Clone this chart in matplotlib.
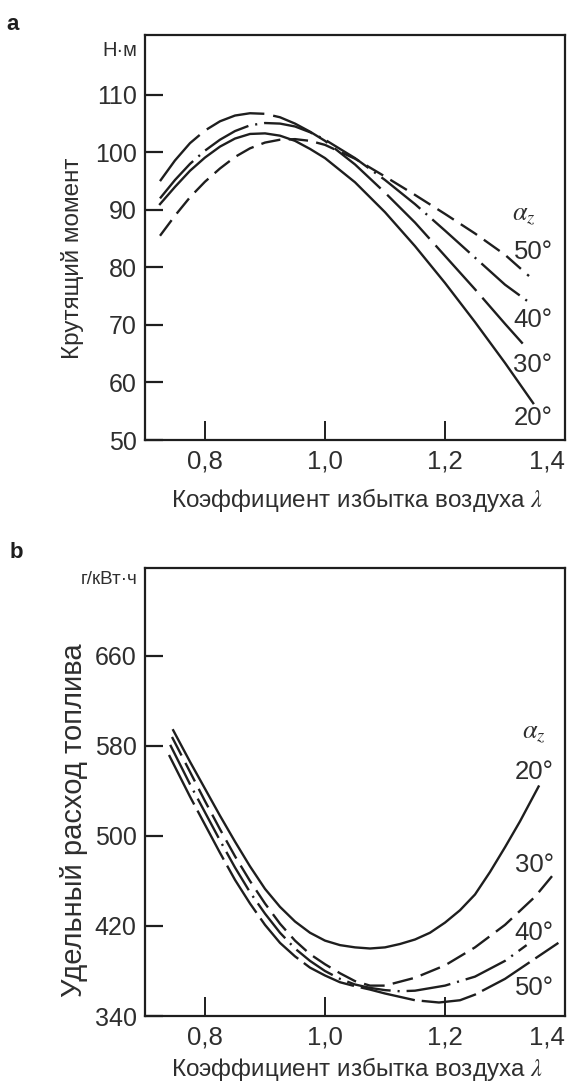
import matplotlib
matplotlib.use('Agg')
import matplotlib.pyplot as plt
from matplotlib import font_manager

# ---------------- data ----------------
x_ticks = [0.8, 1.0, 1.2, 1.4]
x_tick_labels = ['0,8', '1,0', '1,2', '1,4']

# Panel a: torque, N·m
a_y_ticks = [50, 60, 70, 80, 90, 100, 110]
a_x20 = [0.725, 0.75, 0.775, 0.80, 0.825, 0.85, 0.875, 0.90, 0.925, 0.95, 0.975, 1.00, 1.05, 1.10, 1.15, 1.20, 1.25, 1.30, 1.347]
a_y20 = [91.0, 94.0, 96.8, 99.1, 101.0, 102.4, 103.2, 103.3, 102.9, 102.0, 100.6, 99.0, 94.8, 89.6, 83.7, 77.3, 70.5, 63.4, 56.4]
a_x30 = [0.725, 0.75, 0.775, 0.80, 0.825, 0.85, 0.875, 0.90, 0.925, 0.95, 0.975, 1.00, 1.05, 1.10, 1.15, 1.20, 1.25, 1.30, 1.336]
a_y30 = [95.0, 98.6, 101.6, 103.8, 105.4, 106.4, 106.8, 106.7, 106.1, 105.0, 103.6, 102.0, 97.9, 93.0, 87.8, 82.0, 76.2, 70.2, 66.0]
a_x40 = [0.725, 0.75, 0.775, 0.80, 0.825, 0.85, 0.875, 0.90, 0.925, 0.95, 0.975, 1.00, 1.05, 1.10, 1.15, 1.20, 1.25, 1.30, 1.342]
a_y40 = [92.0, 95.2, 98.0, 100.3, 102.2, 103.7, 104.7, 105.1, 105.0, 104.5, 103.5, 102.2, 99.0, 95.2, 91.0, 86.4, 81.7, 77.0, 73.8]
a_x50 = [0.725, 0.75, 0.775, 0.80, 0.825, 0.85, 0.875, 0.90, 0.925, 0.95, 0.975, 1.00, 1.05, 1.10, 1.15, 1.20, 1.25, 1.30, 1.34]
a_y50 = [85.5, 89.0, 92.2, 94.9, 97.2, 99.2, 100.7, 101.7, 102.2, 102.3, 102.0, 101.3, 98.9, 95.8, 92.6, 89.3, 85.9, 82.2, 78.5]

# Panel b: specific fuel consumption, g/kW·h
b_y_ticks = [340, 420, 500, 580, 660]
b_x20 = [0.747, 0.775, 0.80, 0.825, 0.85, 0.875, 0.90, 0.925, 0.95, 0.975, 1.00, 1.025, 1.05, 1.075, 1.10, 1.125, 1.15, 1.175, 1.20, 1.225, 1.25, 1.275, 1.30, 1.325, 1.356]
b_y20 = [594, 566, 542, 518, 495, 473, 453, 437, 424, 414, 407, 403, 401, 400, 401, 404, 408, 414, 423, 434, 448, 468, 490, 513, 544]
b_x30 = [0.745, 0.775, 0.80, 0.825, 0.85, 0.875, 0.90, 0.925, 0.95, 0.975, 1.00, 1.025, 1.05, 1.075, 1.10, 1.15, 1.20, 1.25, 1.30, 1.35, 1.381]
b_y30 = [588, 557, 531, 506, 482, 460, 440, 422, 407, 395, 386, 378, 371, 367, 367, 374, 385, 401, 421, 446, 466]
b_x40 = [0.742, 0.775, 0.80, 0.825, 0.85, 0.875, 0.90, 0.925, 0.95, 0.975, 1.00, 1.025, 1.05, 1.075, 1.10, 1.125, 1.15, 1.20, 1.25, 1.30, 1.336]
b_y40 = [581, 546, 521, 496, 472, 450, 431, 414, 400, 389, 380, 373, 368, 365, 363, 362, 362.5, 367, 375, 389, 403]
b_x50 = [0.74, 0.775, 0.80, 0.825, 0.85, 0.875, 0.90, 0.925, 0.95, 0.975, 1.00, 1.025, 1.05, 1.075, 1.10, 1.15, 1.19, 1.225, 1.25, 1.30, 1.35, 1.389]
b_y50 = [572, 535, 510, 485, 461, 440, 421, 405, 393, 383, 376, 370, 366.5, 363.5, 360, 354, 352, 354, 359, 373, 391, 405]

angle_labels = ['20°', '30°', '40°', '50°']

# ---------------- layout ----------------
W, H = 570, 1086
plt.rcParams['lines.scale_dashes'] = False
names = {f.name for f in font_manager.fontManager.ttflist}
REG = 'Liberation Sans' if 'Liberation Sans' in names else 'DejaVu Sans'
NARROW = 'Liberation Sans Narrow' if 'Liberation Sans Narrow' in names else REG
plt.rcParams['font.family'] = [REG, 'DejaVu Sans']

fig = plt.figure(figsize=(W / 100, H / 100), dpi=100)
fig.patch.set_facecolor('white')

def fx(px):
    return px / W

def fy(py):
    return 1 - py / H

INK = '#1e1e1e'
TXT = '#2e2e2e'

styles = {
    'a20': dict(ls='-'),
    'a30': dict(ls=(0, (44, 6.5))),
    'a40': dict(ls=(0, (36, 5, 1.5, 5))),
    'a50': dict(ls=(0, (14, 6))),
    'b20': dict(ls='-'),
    'b30': dict(ls=(0, (15, 6))),
    'b40': dict(ls=(0, (32, 5, 1.5, 5))),
    'b50': dict(ls=(0, (40, 5))),
}

def style_axes(ax, yticks):
    ax.set_xlim(0.7, 1.4)
    ax.set_xticks(x_ticks)
    ax.set_xticklabels(x_tick_labels, family=NARROW)
    ax.set_yticks(yticks)
    ax.set_yticklabels([str(v) for v in yticks])
    ax.tick_params(axis='y', direction='in', length=13, width=1.6, pad=6,
                   labelsize=18, colors=INK, labelcolor=TXT)
    ax.tick_params(axis='x', direction='in', length=14, width=1.4, pad=7,
                   labelsize=18.5, colors=INK, labelcolor=TXT)
    # last x label ("1,4") sits inside the right edge, as in the original
    ax.get_xticklabels()[-1].set_horizontalalignment('right')
    ax.get_xticklabels()[-1].set_x(1.4)
    for s in ax.spines.values():
        s.set_linewidth(1.6)
        s.set_color(INK)

# Panel a
ax_a = fig.add_axes([fx(145), fy(440), (565 - 145) / W, (440 - 35) / H])
ax_a.set_ylim(50, 120.4)
style_axes(ax_a, a_y_ticks)
lw = 1.7
ax_a.plot(a_x20, a_y20, color=INK, lw=lw, **styles['a20'])
ax_a.plot(a_x30, a_y30, color=INK, lw=lw, **styles['a30'])
ax_a.plot(a_x40, a_y40, color=INK, lw=lw, **styles['a40'])
ax_a.plot(a_x50, a_y50, color=INK, lw=lw, **styles['a50'])

# Panel b
ax_b = fig.add_axes([fx(145), fy(1016), (565 - 145) / W, (1016 - 568) / H])
ax_b.set_ylim(340, 738.2)
style_axes(ax_b, b_y_ticks)
ax_b.plot(b_x20, b_y20, color=INK, lw=lw, **styles['b20'])
ax_b.plot(b_x30, b_y30, color=INK, lw=lw, **styles['b30'])
ax_b.plot(b_x40, b_y40, color=INK, lw=lw, **styles['b40'])
ax_b.plot(b_x50, b_y50, color=INK, lw=lw, **styles['b50'])

# Texts
fig.text(fx(13), fy(25), 'a', fontsize=16, fontweight='bold', family=NARROW,
         ha='center', va='center', color=INK)
fig.text(fx(16), fy(552), 'b', fontsize=16, fontweight='bold', family=NARROW,
         ha='center', va='center', color=INK)

fig.text(fx(137), fy(50), 'Н·м', fontsize=14.5, family=NARROW, ha='right', va='center', color=TXT)
fig.text(fx(137), fy(580), 'г/кВт·ч', fontsize=13.5, family=NARROW, ha='right', va='center', color=TXT)

fig.text(fx(72), fy(258), 'Крутящий момент', fontsize=17.5, family=NARROW, rotation=90,
         ha='center', va='center', color=TXT)
fig.text(fx(74), fy(820), 'Удельный расход топлива', fontsize=21, family=REG, rotation=90,
         ha='center', va='center', color=TXT)

fig.text(fx(357), fy(500), 'Коэффициент избытка воздуха $\\lambda$', fontsize=17.5, family=NARROW,
         ha='center', va='center', color=TXT, math_fontfamily='stix')
fig.text(fx(357), fy(1069), 'Коэффициент избытка воздуха $\\lambda$', fontsize=17.5, family=NARROW,
         ha='center', va='center', color=TXT, math_fontfamily='stix')

# Angle labels panel a (50 top, then 40, 30, 20)
fig.text(fx(524), fy(215), '$\\alpha_z$', fontsize=19, ha='center', va='center',
         color=TXT, math_fontfamily='stix')
a_label_y = {'50°': 252, '40°': 320, '30°': 365, '20°': 418}
for lab in angle_labels:
    fig.text(fx(533), fy(a_label_y[lab]), lab, fontsize=18.5, ha='center', va='center', color=TXT)

# Angle labels panel b
fig.text(fx(534), fy(733), '$\\alpha_z$', fontsize=19, ha='center', va='center',
         color=TXT, math_fontfamily='stix')
b_label_y = {'20°': 772, '30°': 865, '40°': 933, '50°': 988}
for lab in angle_labels:
    fig.text(fx(534), fy(b_label_y[lab]), lab, fontsize=18.5, ha='center', va='center', color=TXT)

fig.savefig('out.png', dpi=100, facecolor='white')
